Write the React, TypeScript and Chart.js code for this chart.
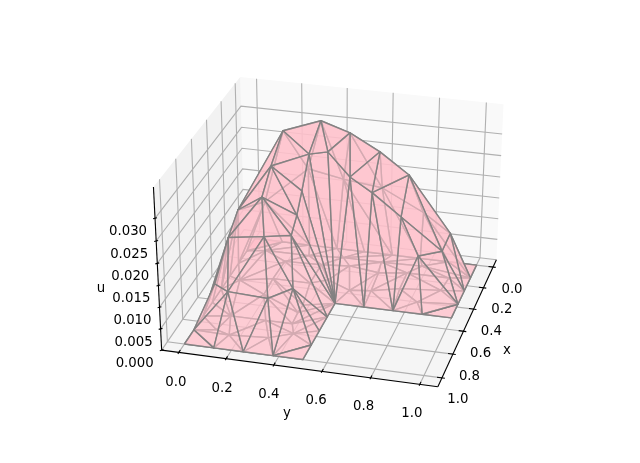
import React, { useEffect, useRef } from "react";
import { Chart, registerables } from "chart.js";

Chart.register(...registerables);

// ---- data ----
const boundaryX = [1,1,1,1,1,.875,.75,.625,.5,.5,.5,.5,.5,.375,.25,.125,0,0,0,0,0,0,0,0,0,.125,.25,.375,.5,.625,.75,.875];
const boundaryY = [0,.125,.25,.375,.5,.5,.5,.5,.5,.625,.75,.875,1,1,1,1,1,.875,.75,.625,.5,.375,.25,.125,0,0,0,0,0,0,0,0];
const interiorX = [.85,.88,.86,.80,.72,.72,.72,.62,.55,.5,.4,.35,.35,.18,.17,.3,.15,.37,.18,.35,.15,.3,.4,.27,.15,.1,.1,.08,.08,.07];
const interiorY = [.089,.153,.315,.404,.11,.262,.376,.372,.374,.189,.052,.185,.349,.189,.351,.416,.471,.529,.608,.618,.727,.731,.83,.903,.911,.08,.275,.425,.595,.775];
const interiorU = [.0108,.0102,.0092,.0106,.0184,.0196,.0206,.0228,.0267,.023,.0168,.0267,.0304,.0311,.0341,.0302,.0316,.0267,.0287,.0232,.0234,.0171,.011,.0094,.0108,.012,.021,.019,.018,.013];
const triangles = [
[0,1,31],[31,1,33],[1,2,33],[31,33,32],[2,33,34],[2,3,34],[3,34,35],[3,4,5],[3,5,35],[5,6,35],[6,7,35],
[33,34,37],[34,35,37],[33,37,36],[33,32,36],[31,30,32],[32,30,36],[30,29,36],[29,28,36],[28,42,36],
[28,27,42],[27,26,42],[26,57,42],[26,25,57],[25,23,57],[25,24,23],[23,22,57],[22,58,57],[22,21,58],[21,59,58],[21,20,59],[20,19,59],[19,60,59],[19,18,60],[18,61,60],[18,17,61],[17,15,61],[17,16,15],[15,56,61],[56,52,61],[52,60,61],[50,60,52],[48,60,50],[48,59,60],[46,59,48],[46,58,59],[45,58,46],[45,57,58],[42,57,45],
[11,12,13],[10,11,54],[11,13,54],[13,14,55],[13,55,54],[14,56,55],[14,15,56],[9,10,51],[10,51,53],[10,53,54],[53,54,55],[53,55,52],[52,55,56],[51,53,52],[51,52,50],[49,51,50],[9,49,51],[8,9,49],[8,49,47],[47,49,48],[49,50,48],[46,47,48],[44,46,47],[8,44,47],[8,40,44],[8,39,40],[8,38,39],[7,8,38],[7,38,35],[35,38,37],[37,38,41],[38,39,41],[43,40,39],[43,39,41],[36,37,41],[36,41,42],[41,42,43],[42,43,45],[43,44,45],[44,45,46],[43,40,44],
];
const xTicks = [0, 0.2, 0.4, 0.6, 0.8, 1.0];
const yTicks = [0, 0.2, 0.4, 0.6, 0.8, 1.0];
const uTicks = [0, 0.005, 0.01, 0.015, 0.02, 0.025, 0.03];
const xTickLabels = ["0.0", "0.2", "0.4", "0.6", "0.8", "1.0"];
const yTickLabels = ["0.0", "0.2", "0.4", "0.6", "0.8", "1.0"];
const uTickLabels = ["0.000", "0.005", "0.010", "0.015", "0.020", "0.025", "0.030"];

// ---- view ----
const W = 640, H = 463;
const XMIN = -0.0729, XMAX = 1.0729, ZMIN = 0, ZMAX = 0.0368;
const AZ = (15 * Math.PI) / 180, EL = (30 * Math.PI) / 180;
const BA = 0.595, BC = 0.446, SX = 2345, SY = 2060, OX = 335, OY = 225.5;
const FONT = '13.3px "DejaVu Sans"';

const sa = Math.sin(AZ), ca = Math.cos(AZ), se = Math.sin(EL), ce = Math.cos(EL);
function view(x: number, y: number, z: number) {
  const px = BA * (2 * (x - XMIN) / (XMAX - XMIN) - 1);
  const py = BA * (2 * (y - XMIN) / (XMAX - XMIN) - 1);
  const pz = BC * (2 * (z - ZMIN) / (ZMAX - ZMIN) - 1);
  const xv = -sa * px + ca * py;
  const yv = -se * ca * px - se * sa * py + ce * pz;
  const zv = ce * ca * px + ce * sa * py + se * pz;
  return { xv, yv, zv };
}
function project(x: number, y: number, z: number) {
  const { xv, yv, zv } = view(x, y, z);
  const d = 10 - zv;
  return { x: OX + (SX * xv) / d, y: OY - (SY * yv) / d };
}

const meshX = [...boundaryX, ...interiorX];
const meshY = [...boundaryY, ...interiorY];
const meshU = [...boundaryX.map(() => 0), ...interiorU];

function buildDatasets() {
  const paint: any[] = [];
  const poly = (pts: number[][], bg: string) =>
    paint.push({
      data: [...pts, pts[0]].map((p) => project(p[0], p[1], p[2])),
      showLine: true, fill: "shape", backgroundColor: bg, borderWidth: 0, borderColor: "transparent", pointRadius: 0, tension: 0,
    });
  const line = (pts: number[][], color: string, w: number) =>
    paint.push({
      data: pts.map((p) => project(p[0], p[1], p[2])),
      showLine: true, fill: false, borderColor: color, borderWidth: w, pointRadius: 0, tension: 0,
    });
  // panes
  poly([[XMIN, XMIN, ZMIN], [XMIN, XMAX, ZMIN], [XMIN, XMAX, ZMAX], [XMIN, XMIN, ZMAX]], "#f9f9f9");
  poly([[XMIN, XMIN, ZMIN], [XMAX, XMIN, ZMIN], [XMAX, XMIN, ZMAX], [XMIN, XMIN, ZMAX]], "#f2f2f2");
  poly([[XMIN, XMIN, ZMIN], [XMAX, XMIN, ZMIN], [XMAX, XMAX, ZMIN], [XMIN, XMAX, ZMIN]], "#f5f5f5");
  // grid
  const grid = "#b0b0b0";
  xTicks.forEach((t) => line([[t, XMAX, ZMIN], [t, XMIN, ZMIN], [t, XMIN, ZMAX]], grid, 1.1));
  yTicks.forEach((t) => line([[XMAX, t, ZMIN], [XMIN, t, ZMIN], [XMIN, t, ZMAX]], grid, 1.1));
  uTicks.forEach((t) => line([[XMAX, XMIN, t], [XMIN, XMIN, t], [XMIN, XMAX, t]], grid, 1.1));
  // spines
  line([[XMAX, XMIN, ZMIN], [XMAX, XMAX, ZMIN]], "#000", 1.1);
  line([[XMAX, XMAX, ZMIN], [XMIN, XMAX, ZMIN]], "#000", 1.1);
  line([[XMAX, XMIN, ZMIN], [XMAX, XMIN, ZMAX]], "#000", 1.1);
  // ticks
  xTicks.forEach((t) => line([[t, XMAX - 0.02, ZMIN], [t, XMAX + 0.012, ZMIN]], "#000", 1.1));
  yTicks.forEach((t) => line([[XMAX - 0.02, t, ZMIN], [XMAX + 0.012, t, ZMIN]], "#000", 1.1));
  uTicks.forEach((t) => line([[XMAX - 0.006, XMIN + 0.006, t], [XMAX + 0.006, XMIN - 0.006, t]], "#000", 1.1));
  // surfaces: the floor copy first, then u, each painted far to near
  const layer = (zs: number[], face: string, edge: string) => {
    const sorted = triangles
      .map((t) => ({ t, depth: t.reduce((s, i) => s + view(meshX[i], meshY[i], zs[i]).zv, 0) }))
      .sort((a, b) => a.depth - b.depth);
    sorted.forEach(({ t }) => {
      const pts = [...t, t[0]].map((i) => project(meshX[i], meshY[i], zs[i]));
      paint.push({
        data: pts, showLine: true, fill: "shape", backgroundColor: face,
        borderColor: edge, borderWidth: 1.4, pointRadius: 0, tension: 0, borderJoinStyle: "round",
      });
    });
  };
  layer(meshX.map(() => 0), "rgba(255,192,203,0.35)", "rgba(128,128,128,0.9)");
  layer(meshU, "rgba(255,192,203,0.65)", "rgba(128,128,128,0.9)");
  return paint.reverse();
}

const textPlugin = {
  id: "axisText",
  afterDraw(chart: any) {
    const ctx = chart.ctx;
    ctx.save();
    ctx.font = FONT;
    ctx.fillStyle = "#000";
    ctx.textAlign = "center";
    ctx.textBaseline = "middle";
    xTicks.forEach((t, i) => {
      const p = project(t, XMAX, ZMIN);
      ctx.fillText(xTickLabels[i], p.x + 19 - 3 * t, p.y + 22);
    });
    yTicks.forEach((t, i) => {
      const p = project(XMAX, t, ZMIN);
      ctx.fillText(yTickLabels[i], p.x - 3 - 5 * t, p.y + 30 - t);
    });
    uTicks.forEach((t, i) => {
      const p = project(XMAX, XMIN, t);
      ctx.fillText(uTickLabels[i], p.x - 27, p.y + 13.5);
    });
    ctx.fillText("x", 507, 351);
    ctx.fillText("y", 287, 414);
    ctx.fillText("u", 101, 289);
    ctx.restore();
  },
};

export default function App() {
  const ref = useRef<HTMLCanvasElement>(null);
  useEffect(() => {
    document.body.style.margin = "0";
    const chart = new Chart(ref.current!, {
      type: "scatter",
      data: { datasets: buildDatasets() },
      options: {
        animation: false,
        responsive: false,
        devicePixelRatio: 1,
        layout: { padding: 0 },
        plugins: { legend: { display: false }, tooltip: { enabled: false } },
        scales: {
          x: { type: "linear", min: 0, max: W, display: false },
          y: { type: "linear", min: 0, max: H, reverse: true, display: false },
        },
      },
      plugins: [textPlugin],
    } as any);
    return () => chart.destroy();
  }, []);
  return <canvas ref={ref} width={W} height={H} style={{ display: "block", background: "#fff" }} />;
}
